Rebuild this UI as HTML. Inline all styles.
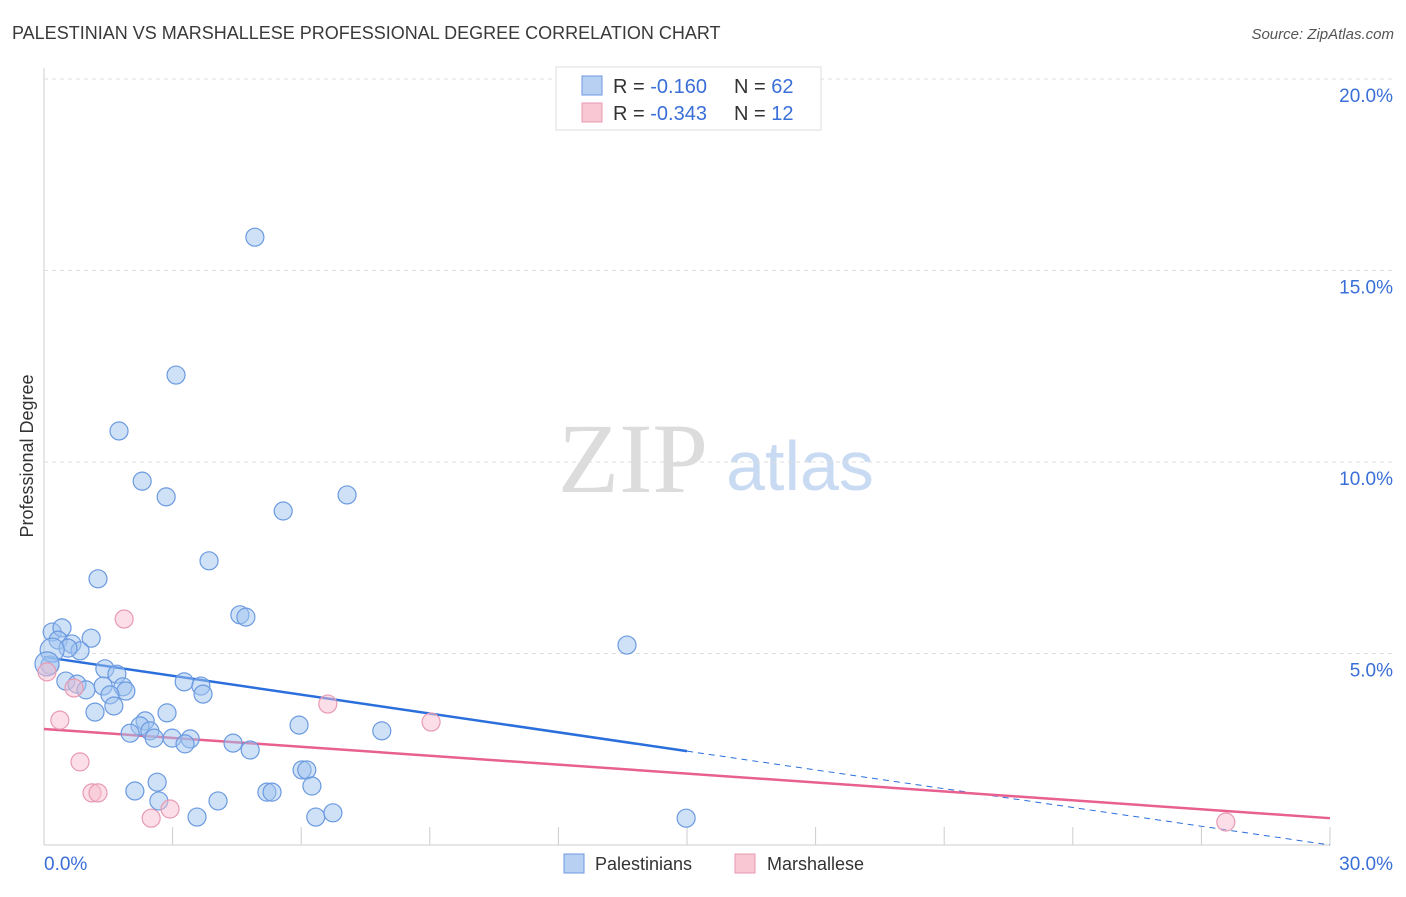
<!DOCTYPE html>
<html><head><meta charset="utf-8"><style>
body{margin:0;background:#fff;font-family:"Liberation Sans",sans-serif}
svg text{font-family:"Liberation Sans",sans-serif}
</style></head><body>
<svg id="c" width="1406" height="892">
<text x="12" y="39" font-size="18" fill="#3a3a3a">PALESTINIAN VS MARSHALLESE PROFESSIONAL DEGREE CORRELATION CHART</text>
<text x="1394" y="39" font-size="15" fill="#555" text-anchor="end" font-style="italic">Source: ZipAtlas.com</text>
<text x="633" y="492" font-size="100" fill="#dcdcdc" text-anchor="middle" style="font-family:'Liberation Serif',serif">ZIP</text>
<text x="800" y="490" font-size="70" fill="#c9daf3" text-anchor="middle">atlas</text>
<text transform="translate(33,456) rotate(-90)" font-size="18" fill="#333" text-anchor="middle">Professional Degree</text>
<g id="grid"></g><g id="lines"></g><g id="pts"></g>
<g>
<rect x="556" y="67" width="265" height="63" fill="#fff" stroke="#ddd"/>
<rect x="582" y="76" width="20" height="19" fill="#b8d1f3" stroke="#6b9ae0"/>
<rect x="582" y="103" width="20" height="19" fill="#f9c6d4" stroke="#e89ab2"/>
<text x="613" y="93" font-size="20" fill="#333">R = <tspan fill="#3a6fd8">-0.160</tspan><tspan x="734">N = </tspan><tspan fill="#3a6fd8">62</tspan></text>
<text x="613" y="120" font-size="20" fill="#333">R = <tspan fill="#3a6fd8">-0.343</tspan><tspan x="734">N = </tspan><tspan fill="#3a6fd8"> 12</tspan></text>
</g>
<g>
<rect x="564" y="854" width="20" height="19" fill="#b8d1f3" stroke="#6b9ae0"/>
<text x="595" y="870" font-size="18" fill="#333">Palestinians</text>
<rect x="735" y="854" width="20" height="19" fill="#f9c6d4" stroke="#e89ab2"/>
<text x="767" y="870" font-size="18" fill="#333">Marshallese</text>
</g>
</svg>
<script>
const yTicks=[5,10,15,20];
const yTickLabels=["5.0%","10.0%","15.0%","20.0%"];
const blueX=[4.92,3.08,1.75,2.29,2.85,7.07,5.58,3.85,1.26,4.57,4.71,13.60,0.19,0.42,0.33,0.65,1.10,0.84,0.56,0.14,1.42,1.70,0.51,0.77,0.98,1.38,1.84,1.91,3.27,3.66,3.71,1.54,1.63,1.19,2.87,2.36,2.24,5.95,2.01,2.47,2.57,2.99,3.41,3.29,4.41,4.81,7.88,6.02,6.13,2.64,2.12,5.20,5.32,6.25,2.68,4.06,3.57,6.34,6.74,14.98,0.19,0.07];
const blueY=[15.87,12.27,10.81,9.50,9.09,9.14,8.72,7.42,6.95,6.01,5.95,5.22,5.56,5.67,5.35,5.25,5.40,5.07,5.14,4.70,4.60,4.46,4.28,4.20,4.05,4.15,4.13,4.02,4.26,4.15,3.94,3.92,3.63,3.47,3.45,3.24,3.11,3.13,2.92,2.98,2.79,2.79,2.77,2.64,2.66,2.48,2.98,1.96,1.96,1.64,1.41,1.38,1.38,1.54,1.15,1.15,0.73,0.73,0.84,0.70,5.09,4.73];
const pinkX=[1.87,0.37,0.70,0.84,1.12,1.26,2.50,2.94,6.62,9.03,27.57,0.07];
const pinkY=[5.90,3.26,4.10,2.17,1.36,1.36,0.70,0.94,3.68,3.21,0.60,4.52];
const blueTrend=[4.91,2.45,0.0];
const pinkTrend=[3.03,0.70];
const NS="http://www.w3.org/2000/svg";
const X=v=>44+v*(1286/30), Y=v=>845-v*38.3;
function mk(t,a,p){const e=document.createElementNS(NS,t);for(const k in a)e.setAttribute(k,a[k]);p.appendChild(e);return e;}
const g=document.getElementById('grid'),L=document.getElementById('lines'),P=document.getElementById('pts');
mk('line',{x1:44,y1:68,x2:44,y2:845,stroke:'#ccc'},g);
mk('line',{x1:44,y1:845,x2:1330,y2:845,stroke:'#ccc'},g);
for(let i=0;i<=10;i++){const t=mk('line',{x1:X(i*3),y1:827,x2:X(i*3),y2:845,stroke:'#ccc'},g);

}
yTicks.forEach((v,i)=>{const l=mk('line',{x1:44,y1:Y(v),x2:1394,y2:Y(v),stroke:'#ddd','stroke-dasharray':'4,4'},g);


const t=mk('text',{x:1393,y:Y(v)+23,'font-size':19,fill:'#3a6fd8','text-anchor':'end'},g);t.textContent=yTickLabels[i];

});
let t0=mk('text',{x:44,y:870,'font-size':19,fill:'#3a6fd8'},g);t0.textContent='0.0%';


let t1=mk('text',{x:1393,y:870,'font-size':19,fill:'#3a6fd8','text-anchor':'end'},g);t1.textContent='30.0%';


blueX.forEach((v,i)=>{const c=mk('circle',{cx:X(v),cy:Y(blueY[i]),r:i>=60?12:9,fill:'rgba(160,195,240,0.5)',stroke:'#6b9ae0','stroke-width':1.2},P);

});
pinkX.forEach((v,i)=>{const c=mk('circle',{cx:X(v),cy:Y(pinkY[i]),r:9,fill:'rgba(248,190,208,0.5)',stroke:'#e89ab2','stroke-width':1.2},P);

});
let b1=mk('line',{x1:X(0),y1:Y(blueTrend[0]),x2:X(15),y2:Y(blueTrend[1]),stroke:'#2a6fdb','stroke-width':2.5},L);


let b2=mk('line',{x1:X(15),y1:Y(blueTrend[1]),x2:X(30),y2:Y(blueTrend[2]),stroke:'#2a6fdb','stroke-width':1,'stroke-dasharray':'6,5'},L);


let p1=mk('line',{x1:X(0),y1:Y(pinkTrend[0]),x2:X(30),y2:Y(pinkTrend[1]),stroke:'#e8608f','stroke-width':2.5},L);


</script>
</body></html>
